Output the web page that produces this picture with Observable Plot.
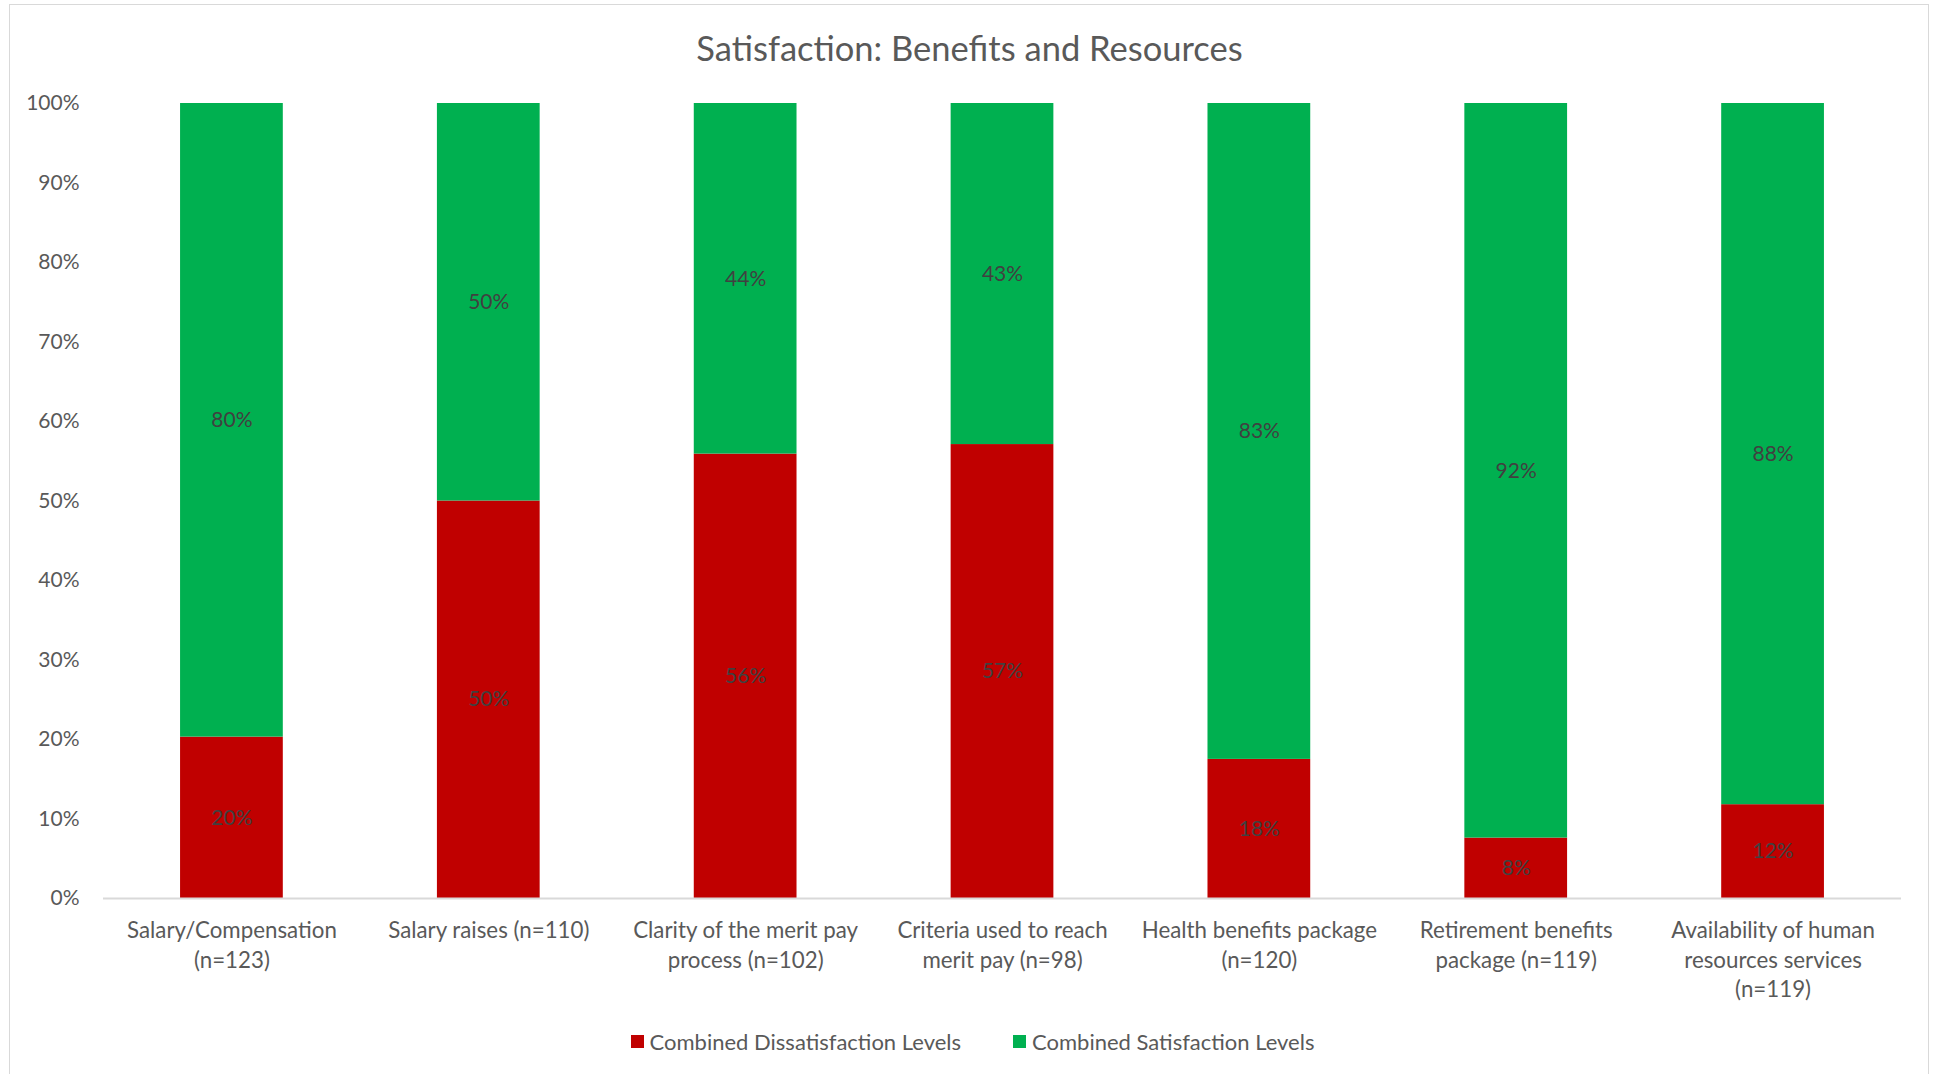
<!DOCTYPE html>
<html>
<head>
<meta charset="utf-8">
<script src="https://cdn.jsdelivr.net/npm/d3@7"></script>
<script src="https://cdn.jsdelivr.net/npm/@observablehq/plot@0.6"></script>
<style>
  html, body { margin: 0; padding: 0; background: #fff; }
  body { width: 1939px; height: 1074px; position: relative; overflow: hidden; font-family: Lato, "Open Sans", sans-serif; }
  #frame { position: absolute; left: 9px; top: 4px; width: 1920px; height: 1100px; border: 1.5px solid #d9d9d9; box-sizing: border-box; }
  #title { position: absolute; left: 0; top: 28px; width: 1939px; text-align: center; font-size: 34.5px; color: #595959; line-height: 40px; }
  #chart { position: absolute; left: 0; top: 80px; }
  #legend { position: absolute; left: 3px; top: 1028px; width: 1939px; display: flex; justify-content: center; align-items: center; font-size: 22px; color: #595959; }
  .item { display: flex; align-items: center; margin: 0 26px; }
  .sw { width: 13px; height: 13px; margin-right: 6px; }
</style>
</head>
<body>
<div id="frame"></div>
<div id="title"></div>
<div id="chart"></div>
<div id="legend"></div>
<script>
const titleText = "Satisfaction: Benefits and Resources";
const categories = [
  "Salary/Compensation (n=123)",
  "Salary raises (n=110)",
  "Clarity of the merit pay process (n=102)",
  "Criteria used to reach merit pay (n=98)",
  "Health benefits package (n=120)",
  "Retirement benefits package (n=119)",
  "Availability of human resources services (n=119)"
];
const tickLabels = [
  "Salary/Compensation\n(n=123)",
  "Salary raises (n=110)",
  "Clarity of the merit pay\nprocess (n=102)",
  "Criteria used to reach\nmerit pay (n=98)",
  "Health benefits package\n(n=120)",
  "Retirement benefits\npackage (n=119)",
  "Availability of human\nresources services\n(n=119)"
];
const seriesNames = ["Combined Dissatisfaction Levels", "Combined Satisfaction Levels"];
const seriesColors = ["#C00000", "#00B050"];
const dissatisfied = [20.3, 50.0, 55.9, 57.1, 17.5, 7.6, 11.8];
const satisfied = [79.7, 50.0, 44.1, 42.9, 82.5, 92.4, 88.2];
const yTicks = [0, 0.1, 0.2, 0.3, 0.4, 0.5, 0.6, 0.7, 0.8, 0.9, 1.0];

const rows = [];
categories.forEach((c, i) => {
  rows.push({category: c, series: seriesNames[0], value: dissatisfied[i]});
  rows.push({category: c, series: seriesNames[1], value: satisfied[i]});
});
const labelOf = new Map(categories.map((c, i) => [c, tickLabels[i]]));

document.getElementById("title").textContent = titleText;

const plot = Plot.plot({
  width: 1939,
  height: 925,
  marginTop: 23,
  marginBottom: 107,
  marginLeft: 103,
  marginRight: 38,
  style: {fontFamily: "Lato, 'Open Sans', sans-serif", color: "#595959", background: "transparent"},
  x: {domain: categories, paddingInner: 0.6, paddingOuter: 0.3, round: false, label: null},
  y: {domain: [0, 1], label: null},
  color: {domain: seriesNames, range: seriesColors},
  marks: [
    Plot.barY(rows, Plot.stackY({x: "category", y: "value", fill: "series", offset: "normalize"})),
    Plot.text(rows, Plot.stackY({x: "category", y: "value", z: "series", offset: "normalize",
      text: d => Math.round(d.value) + "%", fill: "#404040", fontSize: 21})),
    Plot.ruleY([0], {stroke: "#d9d9d9", strokeWidth: 2}),
    Plot.axisY({ticks: yTicks, tickFormat: d3.format(".0%"), tickSize: 0, tickPadding: 24, fontSize: 21, label: null}),
    Plot.axisX({tickFormat: d => labelOf.get(d), tickSize: 0, tickPadding: 18.5, fontSize: 22.3, lineHeight: 1.33, label: null})
  ]
});
document.getElementById("chart").appendChild(plot);

const legend = document.getElementById("legend");
seriesNames.forEach((s, i) => {
  const item = document.createElement("div");
  item.className = "item";
  const sw = document.createElement("div");
  sw.className = "sw";
  sw.style.background = seriesColors[i];
  const t = document.createElement("span");
  t.textContent = s;
  item.appendChild(sw);
  item.appendChild(t);
  legend.appendChild(item);
});
</script>
</body>
</html>
